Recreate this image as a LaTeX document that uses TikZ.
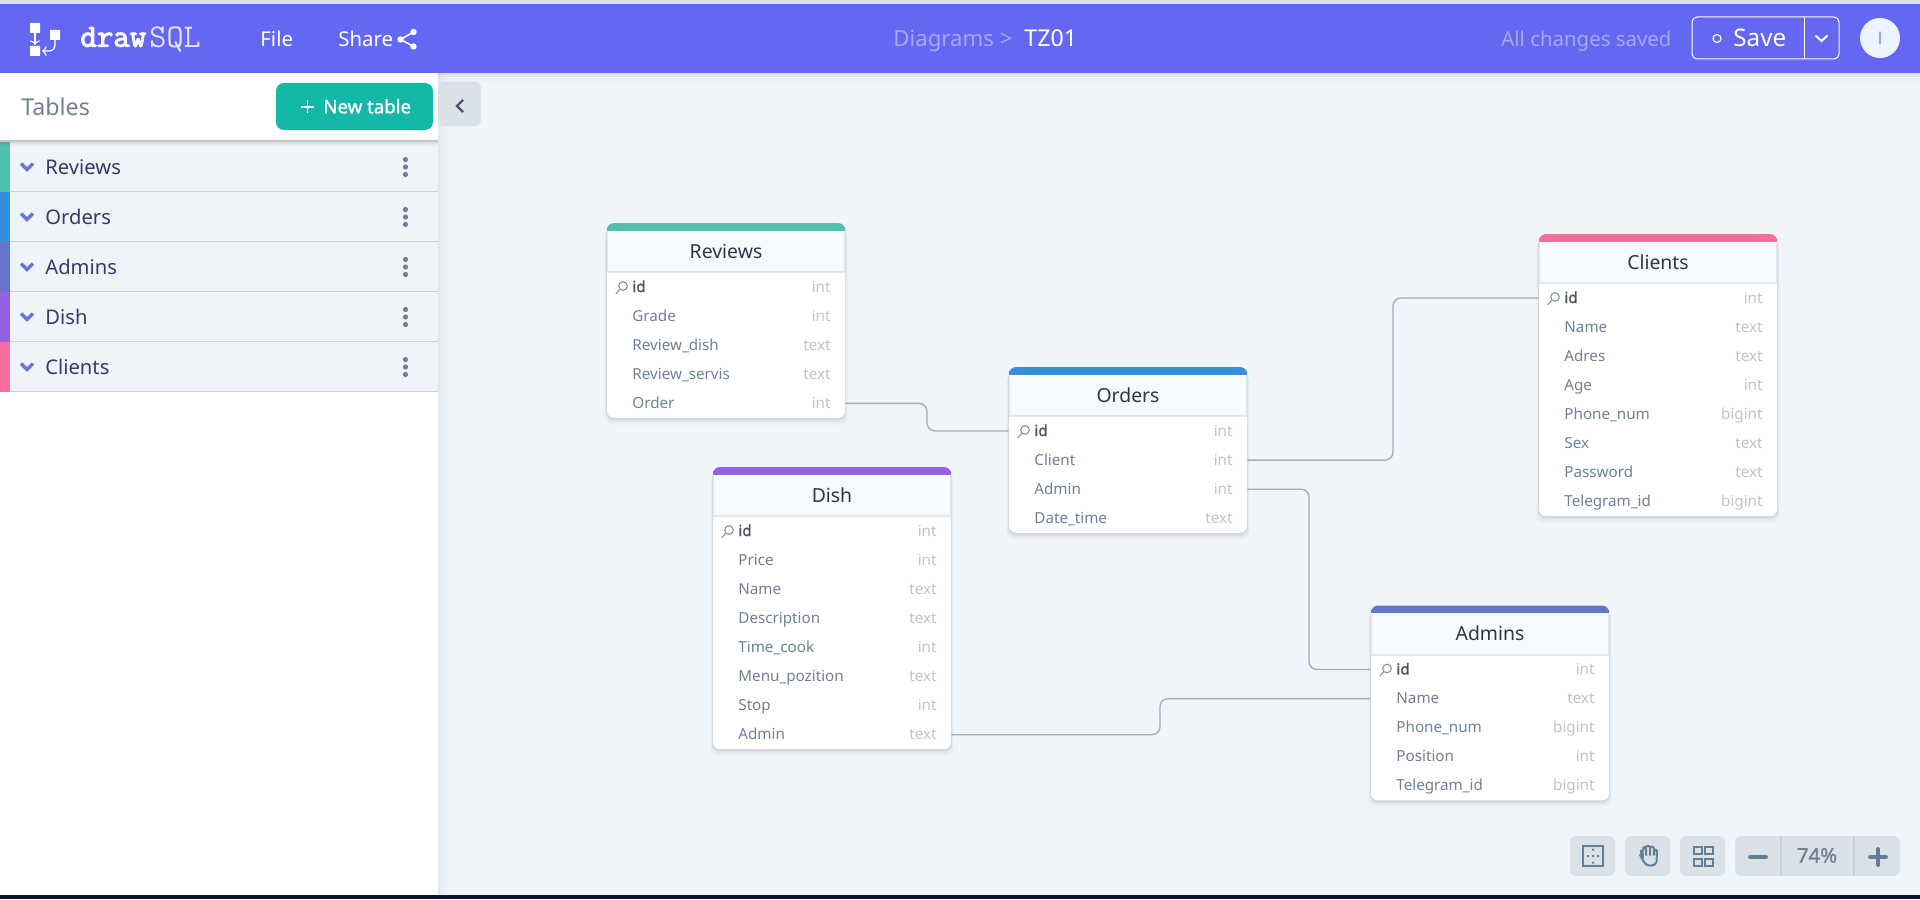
\documentclass[tikz,border=0pt]{standalone}
\usepackage{fontspec}
\setmainfont{Noto Sans}[AutoFakeBold=1.4]
\setmonofont{Latin Modern Mono}[AutoFakeBold=3.2]
\newfontfamily\avatarfont{Liberation Sans}
\usetikzlibrary{calc,arrows.meta}
\definecolor{bar}{HTML}{6467F2}
\definecolor{canvas}{HTML}{F0F5F9}
\definecolor{rowbg}{HTML}{F0F4F9}
\definecolor{ctrl}{HTML}{DAE2E8}
\definecolor{ctrlicon}{HTML}{667D96}
\definecolor{teal}{HTML}{14B8A6}
\definecolor{cReviews}{HTML}{4FBFB0}
\definecolor{cOrders}{HTML}{3490DC}
\definecolor{cAdmins}{HTML}{6574CD}
\definecolor{cDish}{HTML}{9561E2}
\definecolor{cClients}{HTML}{F66D9B}
\definecolor{lineclr}{HTML}{E2E8F0}
\definecolor{titleclr}{HTML}{2D3748}
\definecolor{namegrey}{HTML}{718096}
\definecolor{typegrey}{HTML}{BFC4CA}
\definecolor{idgrey}{HTML}{4A5568}
\definecolor{indigo}{HTML}{3C366B}
\definecolor{chev}{HTML}{6B74D6}
\definecolor{fadebar}{HTML}{A5A8F8}
\definecolor{conn}{HTML}{A0AEC0}
\definecolor{titlebg}{HTML}{F7FAFC}
\definecolor{avatar}{HTML}{EBF4FF}
\definecolor{avatarT}{HTML}{7F9CF5}
\definecolor{strip}{HTML}{0F172A}
\definecolor{topline}{HTML}{DDE0E3}
\newcommand\fs[1]{\fontsize{#1}{#1}\selectfont}
\tikzset{
  x=0.5pt,y=-0.5pt,
  rowbox/.style={rectangle,inner sep=0pt,minimum width=119pt,minimum height=14.5pt},
  lbl/.style={inner sep=0pt,text height=5.5pt,text depth=0.5pt,font=\fs{7.6}},
  connector/.style={draw=conn,line width=0.7pt,rounded corners=4pt},
  topt/.style={inner sep=0pt,text=white,text height=9.2pt,text depth=0.5pt,font=\fs{10.2}},
  icon/.style={draw=ctrlicon,line width=1pt},
  ctrlbtn/.style={fill=ctrl,rounded corners=3pt},
  sideitem/.style={inner sep=0pt,anchor=west,text=indigo,text height=7.6pt,text depth=0.2pt,font=\fs{10.1}},
}
% id, x, top, colour, title, rows-1, rows
\newcommand\dbtable[7]{%
\begin{scope}[shift={(#2,#3)}]
  \foreach \s/\o in {7/0.02,5/0.025,3/0.04,1.5/0.05}{
    \fill[black,opacity=\o,rounded corners=4pt] ({-\s*0.4},{\s}) rectangle ({238+\s*0.4},{64+29.1*#6+14.5+\s});
  }
  \fill[white,rounded corners=3.5pt] (0,0) rectangle (238,{64+29.1*#6+14.5});
  \fill[#4,rounded corners=3.5pt] (0,0) rectangle (238,12);
  \fill[#4] (0,4) rectangle (238,7.5);
  \fill[lineclr] (0,7.5) rectangle (238,50);
  \fill[titlebg] (1,7.5) rectangle (237,48);
  \node[inner sep=0pt,text=titleclr,font=\fs{9.7},text height=8pt,text depth=0.2pt] (#1-title) at (119,27.5) {#5};
  \foreach \n/\t [count=\i from 0] in {#7}{
    \node[rowbox] (#1-\i) at (119,{64+29.1*\i}) {};
    \ifnum\i=0
      \node[lbl,anchor=west,text=idgrey] (#1-\i-n) at (25,{64+29.1*\i}) {\textbf{\n}};
      \draw[namegrey!85,line width=0.55pt,line cap=round] (13.5,65.5) -- (9,70.5);
      \draw[namegrey!85,line width=0.55pt,fill=white] (16,63) circle (4.3);
    \else
      \node[lbl,anchor=west,text=namegrey] (#1-\i-n) at (25,{64+29.1*\i}) {\n};
    \fi
    \node[lbl,anchor=east,text=typegrey] (#1-\i-t) at (224,{64+29.1*\i}) {\t};
  }
\end{scope}}
\begin{document}
\begin{tikzpicture}
\useasboundingbox (0,0) rectangle (1920,899);
% page
\fill[canvas] (0,0) rectangle (1920,899);
\fill[topline] (0,0) rectangle (1920,4);
% sidebar
\foreach \s/\o in {9/0.012,6/0.015,3/0.02}{\fill[black,opacity=\o] (0,73) rectangle ({438+\s},895);}
\fill[white] (0,73) rectangle (438,895);
\foreach \yy/\c/\t in {142/cReviews/Reviews,192/cOrders/Orders,242/cAdmins/Admins,292/cDish/Dish,342/cClients/Clients}{
  \fill[rowbg] (0,\yy) rectangle (438,\yy+50);
  \fill[lineclr!90!black] (10,\yy+49) rectangle (438,\yy+50);
  \fill[\c] (0,\yy) rectangle (10,\yy+50);
  \draw[chev,line width=1.7pt,line cap=butt] (21,\yy+21.5) -- (27,\yy+27.5) -- (33,\yy+21.5);
  \node[sideitem] (side-\t) at (45,\yy+25) {\t};
  \fill[namegrey] (405.5,\yy+17.5) circle (2.6) (405.5,\yy+25) circle (2.6) (405.5,\yy+32.5) circle (2.6);
}
\foreach \s/\o in {6/0.03,4/0.05,2/0.16}{\fill[black,opacity=\o] (0,140) rectangle (438,140+\s);}
\fill[white] (0,73) rectangle (438,140);
\node[inner sep=0pt,anchor=west,text=namegrey,font=\fs{11.6},text height=8pt,text depth=0pt] (tables) at (21,107) {Tables};
\fill[teal,rounded corners=4pt] (276,83) rectangle (433,130);
\draw[white,line width=0.7pt] (301,107) -- (314,107) (307.5,100.5) -- (307.5,113.5);
\node[inner sep=0pt,anchor=west,text=white,font=\fs{9.3}\bfseries,text height=6.5pt,text depth=0.2pt] (newtable) at (323,107) {New table};
\fill[ctrl,rounded corners=3pt] (438,82) rectangle (481,126);
\draw[idgrey,line width=1.1pt] (463,100) -- (457,106) -- (463,112);
% top bar
\foreach \s/\o in {10/0.012,7/0.015,4/0.02,2/0.03}{\fill[black,opacity=\o] (438,73) rectangle (1920,73+\s);}
\fill[bar] (0,4) rectangle (1920,73);
\fill[white] (30,23) rectangle (40,33) (30,46) rectangle (40,56) (50,30) rectangle (60,40);
\draw[white,line width=0.6pt,-{>[scale=0.8]}] (35,33) -- (35,45);
\draw[white,line width=0.6pt,-{>[scale=0.8]},rounded corners=3pt] (55,40) -- (55,51) -- (42,51);
\node[inner sep=0pt,anchor=west,text=white,font=\fs{16}\ttfamily\bfseries,text height=9pt,text depth=0.3pt] (logo1) at (80,38) {draw};
\node[inner sep=0pt,anchor=west,text=white!80!bar,font=\fs{16.6}\ttfamily,text height=9.5pt,text depth=0pt] (logo2) at (149,38) {SQL};
\node[topt,anchor=west] (file) at (260,38) {File};
\node[topt,anchor=west] (share) at (338,38) {Share};
\draw[white,line width=0.75pt] (413.5,32) -- (400.5,39.5) -- (413.5,46.5);
\fill[white] (413.5,32) circle (3.2) (400.5,39.5) circle (3.2) (413.5,46.5) circle (3.2);
\node[topt,anchor=west,text=fadebar,font=\fs{11.1}] (crumb) at (893,38) {Diagrams >};
\node[topt,anchor=west,font=\fs{11.6}] (tz) at (1024,38) {TZ01};
\node[topt,anchor=west,text=fadebar,font=\fs{10.2}] (saved) at (1501,38) {All changes saved};
\draw[white,line width=0.5pt,rounded corners=2.5pt] (1692,17) rectangle (1839,59);
\draw[white,line width=0.5pt] (1804.5,17) -- (1804.5,59);
\draw[white,line width=0.6pt] (1717,38.5) circle (4);
\node[topt,anchor=west,font=\fs{12.1},text height=9.5pt] (save) at (1733,38) {Save};
\draw[white,line width=1pt] (1815.5,35.5) -- (1821.5,41) -- (1827.5,35.5);
\fill[avatar] (1880,38) circle (20);
\node[inner sep=0pt,text=avatarT,font=\fs{9}\avatarfont] (avatarI) at (1880,38) {I};
% tables
\dbtable{reviews}{607}{223}{cReviews}{Reviews}{4}{id/int,Grade/int,Review\_dish/text,Review\_servis/text,Order/int}
\dbtable{orders}{1009}{367}{cOrders}{Orders}{3}{id/int,Client/int,Admin/int,Date\_time/text}
\dbtable{clients}{1539}{234}{cClients}{Clients}{7}{id/int,Name/text,Adres/text,Age/int,Phone\_num/bigint,Sex/text,Password/text,Telegram\_id/bigint}
\dbtable{dish}{713}{467}{cDish}{Dish}{7}{id/int,Price/int,Name/text,Description/text,Time\_cook/int,Menu\_pozition/text,Stop/int,Admin/text}
\dbtable{admins}{1371}{605.5}{cAdmins}{Admins}{4}{id/int,Name/text,Phone\_num/bigint,Position/int,Telegram\_id/bigint}
% connectors
\coordinate (e1) at (927,0);
\coordinate (e2) at (1393,0);
\coordinate (e3) at (1309,0);
\coordinate (e4) at (1160,0);
\draw[connector] (reviews-4.east) -- (e1 |- reviews-4.east) -- (e1 |- orders-0.west) -- (orders-0.west);
\draw[connector] (orders-1.east) -- (e2 |- orders-1.east) -- (e2 |- clients-0.west) -- (clients-0.west);
\draw[connector] (orders-2.east) -- (e3 |- orders-2.east) -- (e3 |- admins-0.west) -- (admins-0.west);
\draw[connector] (dish-7.east) -- (e4 |- dish-7.east) -- (e4 |- admins-1.west) -- (admins-1.west);
% bottom controls
\fill[ctrlbtn] (1570,836) rectangle (1615,876);
\fill[ctrlbtn] (1625,836) rectangle (1670,876);
\fill[ctrlbtn] (1680,836) rectangle (1725,876);
\fill[ctrlbtn] (1735,836) rectangle (1900,876);
\fill[black!8!ctrl] (1780,836) rectangle (1782,876) (1853,836) rectangle (1855,876);
\draw[icon] (1583,846) rectangle (1603,866);
\fill[ctrlicon] (1592,848.5) rectangle (1594,850.5) (1592,855) rectangle (1594,857) (1592,861.5) rectangle (1594,863.5) (1587,855) rectangle (1589,857) (1597,855) rectangle (1599,857);
\draw[icon,line join=round,line cap=round] (1642,855) .. controls (1640,852) and (1641,849) .. (1642.5,851) -- (1643,858)
  (1643,850) .. controls (1643,846) and (1646,846) .. (1646,850) -- (1646,855)
  (1646,848) .. controls (1646,845) and (1650,845) .. (1650,848) -- (1650,855)
  (1650,848) .. controls (1650,846) and (1654,846) .. (1654,849) -- (1654,855)
  (1654,851) .. controls (1654,849) and (1657,849) .. (1657,852) -- (1656.5,862) .. controls (1655,867) and (1646,867) .. (1644,862) -- (1640,855);
\draw[icon] (1694,847) rectangle (1702,854) (1705,847) rectangle (1713,854) (1694,859) rectangle (1702,866) (1705,859) rectangle (1713,866);
\draw[ctrlicon,line width=2pt,line cap=round] (1750,857) -- (1766,857);
\node[inner sep=0pt,text=namegrey,font=\fs{10.2}\bfseries,text height=7pt,text depth=0.3pt] (zoom) at (1817,856) {74\%};
\draw[ctrlicon,line width=2pt,line cap=round] (1870,857) -- (1886,857) (1878,849) -- (1878,865);
% bottom strip
\fill[strip] (0,895) rectangle (1920,899);
\end{tikzpicture}
\end{document}
